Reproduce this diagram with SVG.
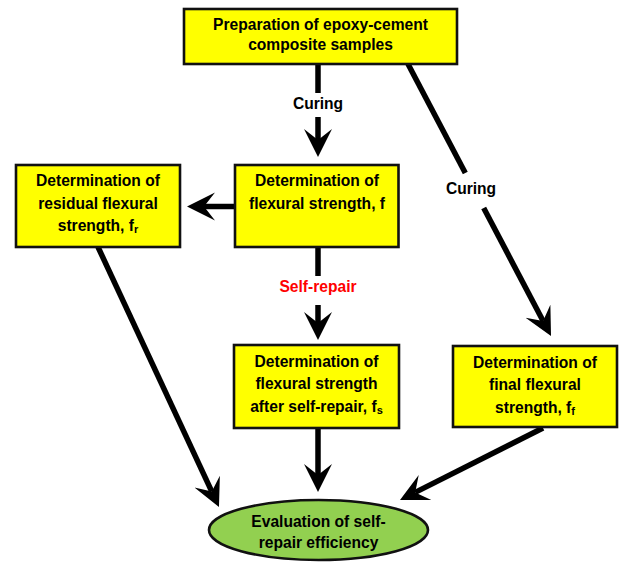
<svg xmlns="http://www.w3.org/2000/svg" width="620" height="562" viewBox="0 0 620 562">
<defs>
<style>
.box{fill:#FFFF00;stroke:#111;stroke-width:2.6}
.ell{fill:#92D050;stroke:#111;stroke-width:2.6}
.t{font-family:"Liberation Sans",Arial,sans-serif;font-weight:bold;font-size:15.6px;fill:#000;text-anchor:middle}
.red{fill:#FF0000}
.sub{font-size:11px}
.c{stroke:#000;stroke-width:5.5;fill:none}
.a{marker-end:url(#ah)}
</style>
<marker id="ah" markerUnits="userSpaceOnUse" markerWidth="30" markerHeight="30" viewBox="0 -15 30 30" refX="11" refY="0" orient="auto">
<path d="M28,0 L0,-14 L11,0 L0,14 Z" fill="#000"/>
</marker>
</defs>
<rect width="620" height="562" fill="#fff"/>
<g id="connectors">
<line class="c" x1="318" y1="64" x2="318" y2="93"/>
<line class="c a" x1="318" y1="117" x2="318" y2="140"/>
<line class="c" x1="408" y1="64" x2="465.3" y2="173"/>
<line class="c a" x1="483.7" y1="208" x2="543.1" y2="321"/>
<line class="c a" x1="235" y1="206.5" x2="204" y2="206.5"/>
<line class="c" x1="318" y1="247" x2="318" y2="276"/>
<line class="c a" x1="318" y1="305" x2="318" y2="323"/>
<line class="c a" x1="98" y1="247" x2="211.8" y2="491.6"/>
<line class="c a" x1="318" y1="428" x2="318" y2="475"/>
<line class="c a" x1="543" y1="428" x2="415.2" y2="492.4"/>
<text class="t" x="318" y="109">Curing</text>
<text class="t" x="471" y="194">Curing</text>
<text class="t red" x="318" y="292">Self-repair</text>
</g>
<g id="prep">
<rect class="box" x="184" y="9" width="273" height="55"/>
<text class="t" x="320.5" y="30">Preparation of epoxy-cement</text>
<text class="t" x="320.5" y="50">composite samples</text>
</g>
<g id="flex">
<rect class="box" x="235" y="165" width="163.5" height="82"/>
<text class="t" x="317" y="186">Determination of</text>
<text class="t" x="317" y="209">flexural strength, f</text>
</g>
<g id="residual">
<rect class="box" x="16" y="165" width="164" height="82"/>
<text class="t" x="98" y="186">Determination of</text>
<text class="t" x="98" y="209">residual flexural</text>
<text class="t" x="98" y="231">strength, f<tspan class="sub" dy="2">r</tspan></text>
</g>
<g id="afterrepair">
<rect class="box" x="234" y="345" width="165" height="83"/>
<text class="t" x="316.5" y="367">Determination of</text>
<text class="t" x="316.5" y="389">flexural strength</text>
<text class="t" x="316.5" y="412">after self-repair, f<tspan class="sub" dy="2">s</tspan></text>
</g>
<g id="final">
<rect class="box" x="453" y="346" width="164" height="81"/>
<text class="t" x="535" y="368">Determination of</text>
<text class="t" x="535" y="390">final flexural</text>
<text class="t" x="535" y="413">strength, f<tspan class="sub" dy="2">f</tspan></text>
</g>
<g id="evaluation">
<ellipse class="ell" cx="318.5" cy="530" rx="109.5" ry="30"/>
<text class="t" x="318.5" y="527">Evaluation of self-</text>
<text class="t" x="318.5" y="548">repair efficiency</text>
</g>
</svg>
